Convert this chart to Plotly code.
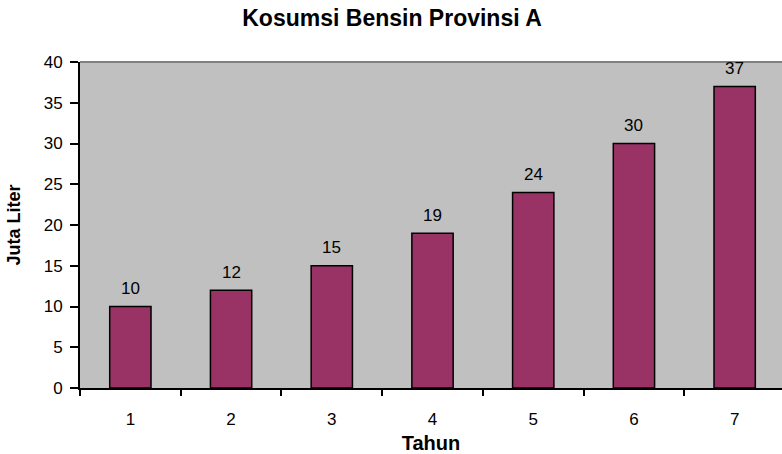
import plotly.graph_objects as go

tahun = ["1", "2", "3", "4", "5", "6", "7"]
konsumsi = [10, 12, 15, 19, 24, 30, 37]
y_ticks = [0, 5, 10, 15, 20, 25, 30, 35, 40]

FONT = "Arial, Liberation Sans, sans-serif"

fig = go.Figure()
fig.add_trace(go.Bar(
    x=tahun, y=konsumsi, width=0.41,
    marker=dict(color="#993366", line=dict(color="black", width=1.5)),
    hoverinfo="x+y",
))

for i, v in enumerate(konsumsi):
    fig.add_annotation(x=i, y=v, text=str(v), showarrow=False,
                       yanchor="middle", yshift=18,
                       font=dict(family=FONT, size=17, color="black"))

fig.add_shape(type="line", xref="paper", yref="paper", x0=0, x1=1, y0=1, y1=1,
              line=dict(color="#808080", width=2))

fig.update_layout(
    width=782, height=454,
    margin=dict(l=80, r=0, t=62, b=66),
    paper_bgcolor="white", plot_bgcolor="#C0C0C0",
    showlegend=False,
    title=dict(text="<b>Kosumsi Bensin Provinsi A</b>", x=392/782, xanchor="center",
               y=1 - 18/454, yanchor="middle",
               font=dict(family=FONT, size=23, color="black")),
)
fig.update_xaxes(
    type="category", range=[-0.5, 6.47], tickson="boundaries",
    ticks="outside", ticklen=6, tickwidth=2, tickcolor="black",
    showline=True, linecolor="black", linewidth=2,
    showgrid=False, zeroline=False,
    tickfont=dict(family=FONT, size=17, color="black"),
    ticklabelstandoff=15,
    title=dict(text="<b>Tahun</b>", font=dict(family=FONT, size=20, color="black"), standoff=8),
)
fig.update_yaxes(
    range=[0, 40], tickvals=y_ticks,
    ticks="outside", ticklen=8, tickwidth=2, tickcolor="black",
    showline=True, linecolor="black", linewidth=2,
    showgrid=False, zeroline=False,
    tickfont=dict(family=FONT, size=17, color="black"),
    ticklabelstandoff=4,
    title=dict(text="<b>Juta Liter</b>", font=dict(family=FONT, size=18, color="black"), standoff=18),
)

fig.write_html("out.html", config={"displayModeBar": False},
               post_script="document.body.style.margin='0';")
